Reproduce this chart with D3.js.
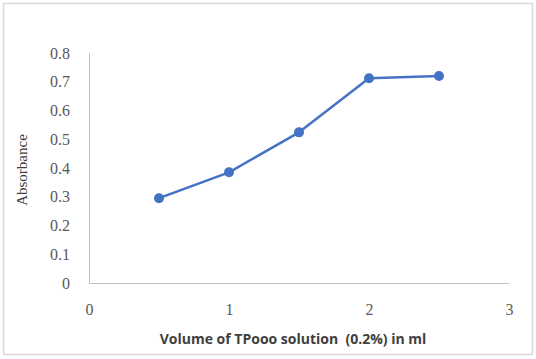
<!DOCTYPE html>
<html><head><meta charset="utf-8">
<script src="https://cdn.jsdelivr.net/npm/d3@7"></script>
<style>body{margin:0;background:#fff}</style>
</head><body>
<svg id="c" width="536" height="359"></svg>
<script>
const volumes = [0.5, 1, 1.5, 2, 2.5];
const absorbance = [0.295, 0.385, 0.524, 0.712, 0.72];
const xTicks = [0, 1, 2, 3];
const yTicks = [0, 0.1, 0.2, 0.3, 0.4, 0.5, 0.6, 0.7, 0.8];
const xTitle = "Volume of TPooo solution  (0.2%) in ml";
const yTitle = "Absorbance";

const svg = d3.select("#c");
svg.append("rect").attr("x", 3.5).attr("y", 3.5).attr("width", 529).attr("height", 351)
  .attr("fill", "#fff").attr("stroke", "#d9d9d9").attr("stroke-width", 1.5);

const x = d3.scaleLinear().domain([0, 3]).range([89, 509]);
const y = d3.scaleLinear().domain([0, 0.8]).range([283, 53]);

const serif = "'Liberation Serif', 'DejaVu Serif', serif";
const gy = svg.append("g").attr("transform", "translate(89,0)")
  .call(d3.axisLeft(y).tickValues(yTicks).tickSize(0).tickPadding(19).tickFormat(d => d3.format("")(+d.toFixed(1))));
gy.select(".domain").attr("stroke", "#bfbfbf");
gy.selectAll("text").attr("font-family", serif).attr("font-size", 16).attr("fill", "#595959");

const gx = svg.append("g").attr("transform", "translate(0,283)")
  .call(d3.axisBottom(x).tickValues(xTicks).tickSize(0).tickPadding(21).tickFormat(d3.format("d")));
gx.select(".domain").attr("stroke", "#bfbfbf");
gx.selectAll("text").attr("font-family", serif).attr("font-size", 16).attr("fill", "#595959");

const data = volumes.map((v, i) => [v, absorbance[i]]);
svg.append("path").datum(data)
  .attr("fill", "none").attr("stroke", "#4472c4").attr("stroke-width", 2.5)
  .attr("stroke-linejoin", "round")
  .attr("d", d3.line().x(d => x(d[0])).y(d => y(d[1])));
svg.selectAll("circle.pt").data(data).enter().append("circle")
  .attr("class", "pt").attr("cx", d => x(d[0])).attr("cy", d => y(d[1])).attr("r", 5)
  .attr("fill", "#4472c4");

svg.append("text").attr("x", 293).attr("y", 344).attr("text-anchor", "middle")
  .style("white-space", "pre")
  .attr("font-family", "'Open Sans', 'Liberation Sans', sans-serif").attr("font-weight", "bold")
  .attr("font-size", 14).attr("fill", "#404040").text(xTitle);
svg.append("text").attr("transform", "translate(27,170) rotate(-90)").attr("text-anchor", "middle")
  .attr("font-family", serif).attr("font-size", 15).attr("fill", "#404040").text(yTitle);
</script>
</body></html>
